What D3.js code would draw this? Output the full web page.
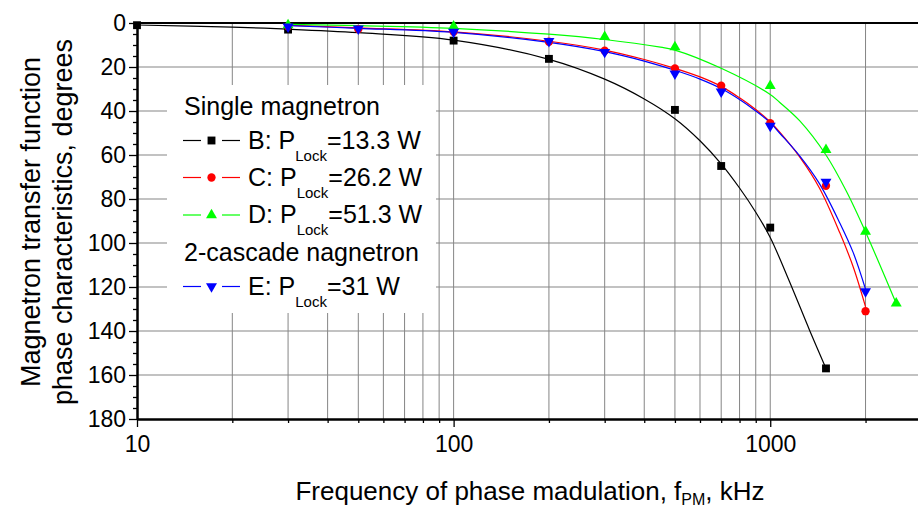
<!DOCTYPE html>
<html><head><meta charset="utf-8">
<script src="https://cdn.jsdelivr.net/npm/d3@7/dist/d3.min.js"></script>
<style>
html,body{margin:0;padding:0;background:#fff;}
svg{display:block;font-family:"Liberation Sans",Arial,sans-serif;}
</style></head>
<body>
<svg id="chart" width="918" height="511"></svg>
<script>
// ---- data ----
const yTickValues = [0,20,40,60,80,100,120,140,160,180];
const xMajorTicks = [10,100,1000];

// measured points
const fB = [10,30,100,200,500,700,1000,1500];
const vB = [1,3,8,16.3,39.5,65,93,157];
const fC = [30,50,100,200,300,500,700,1000,1500,2000];
const vC = [1.5,2.8,4,8.5,12.6,20.6,28.5,45.5,74,131];
const fD = [30,100,300,500,1000,1500,2000,2500];
const vD = [1,1.5,6.3,11,28.6,57.7,94.8,127.4];
const fE = [30,50,100,200,300,500,700,1000,1500,2000];
const vE = [1.7,2.6,4,8.3,13.2,23,31.2,46.8,72.2,122];

// fitted curves
const fitFB = [10,20,30,50,100,200,300,400,500,600,700,800,900,1000,1150,1330,1500];
const fitVB = [0.9,1.9,2.8,4.4,7.8,16.5,25.5,34.5,43.5,53.5,64,75,86,97.5,117.5,139.5,157];
const fitFC = [30,50,100,200,300,400,500,600,700,800,900,1000,1070,1240,1430,1660,1830,2000];
const fitVC = [1.0,2.2,4.0,8.3,12.3,16.6,20.6,24.5,28.8,34,39.3,45,49.5,61,75,95.5,111,129];
const fitFD = [30,50,100,200,300,450,500,700,1000,1070,1240,1500,1740,2000,2500];
const fitVD = [0.6,1.2,2.4,5.1,7.5,11,12.3,20.6,32.5,36,44.5,60,76.5,95,127.5];
const fitFE = [30,50,100,200,300,400,500,600,700,800,900,1000,1070,1240,1430,1660,1830,2000];
const fitVE = [1.2,2.4,4.3,8.8,13,17.3,21.5,25.5,29.8,34.8,40,45.3,50,60.5,73,91,104.5,121];

const seriesNames = ["B","C","D","E"];
const seriesColors = ["#000000","#ff0000","#00ff00","#0000ff"];
const seriesSymbols = ["square","circle","triUp","triDown"];
const legendPrefix = ["B: P","C: P","D: P","E: P"];
const legendValue = ["=13.3 W","=26.2 W","=51.3 W","=31 W"];
const legendHeader1 = "Single magnetron";
const legendHeader2 = "2-cascade nagnetron";

// ---- chart ----
const svg = d3.select("#chart");
const x = d3.scaleLog().domain([10,3000]).range([137,921.3]);
const y = d3.scaleLinear().domain([0,180]).range([23,419]);

const grid = svg.append("g");
grid.selectAll("line.v").data(x.ticks().filter(d=>d>10)).enter().append("line")
  .attr("x1",d=>x(d)).attr("x2",d=>x(d)).attr("y1",y(0)).attr("y2",y(180))
  .attr("stroke","#858585").attr("stroke-width",1);
grid.selectAll("line.h").data(yTickValues.filter(d=>d>0&&d<180)).enter().append("line")
  .attr("x1",x(10)).attr("x2",x(3000)).attr("y1",d=>y(d)).attr("y2",d=>y(d))
  .attr("stroke","#858585").attr("stroke-width",1.2);

// legend background
svg.append("rect").attr("x",167).attr("y",85).attr("width",269).attr("height",228).attr("fill","#fff");

// axes
const fs = 23;
const yAxis = svg.append("g").attr("transform",`translate(${x(10)},0)`)
  .call(d3.axisLeft(y).tickValues(yTickValues).tickSize(8).tickSizeOuter(0).tickPadding(3));
const yMinor = svg.append("g").attr("transform",`translate(${x(10)},0)`)
  .call(d3.axisLeft(y).tickValues(d3.range(5,180,5).filter(d=>d%20!==0)).tickSize(4).tickSizeOuter(0).tickFormat(""));
const xAxis = svg.append("g").attr("transform",`translate(0,${y(180)})`)
  .call(d3.axisBottom(x).tickValues(xMajorTicks).tickSize(8).tickSizeOuter(0).tickPadding(9).tickFormat(d3.format("d")));
const xMinor = svg.append("g").attr("transform",`translate(0,${y(180)})`)
  .call(d3.axisBottom(x).tickValues(x.ticks().filter(d=>!xMajorTicks.includes(d))).tickSize(4).tickSizeOuter(0).tickFormat(""));
[yAxis,yMinor,xAxis,xMinor].forEach(g=>{
  g.selectAll("path.domain").attr("stroke","#000").attr("stroke-width",2);
  g.selectAll(".tick line").attr("stroke","#000").attr("stroke-width",1.3);
  g.selectAll("text").attr("font-size",fs).attr("fill","#000").attr("font-family","Liberation Sans, Arial, sans-serif");
});
svg.append("line").attr("x1",x(10)-1).attr("x2",x(3000)).attr("y1",y(0)).attr("y2",y(0))
  .attr("stroke","#000").attr("stroke-width",2);

// curves
const line = d3.line().x(d=>x(d[0])).y(d=>y(d[1])).curve(d3.curveCatmullRom.alpha(0.5));
const fits = [[fitFB,fitVB],[fitFC,fitVC],[fitFD,fitVD],[fitFE,fitVE]];
const pts = [[fB,vB],[fC,vC],[fD,vD],[fE,vE]];

function symbolPath(type){
  if(type==="square") return d3.symbol(d3.symbolSquare,62)();
  if(type==="circle") return d3.symbol(d3.symbolCircle,54)();
  return d3.symbol(d3.symbolTriangle,52)();
}
function symTransform(type,px,py){
  if(type==="triDown") return `translate(${px},${py}) rotate(180)`;
  return `translate(${px},${py})`;
}

fits.forEach((f,i)=>{
  svg.append("path").datum(f[0].map((d,j)=>[d,f[1][j]]))
    .attr("d",line).attr("fill","none").attr("stroke",seriesColors[i]).attr("stroke-width",1.2);
});
pts.forEach((p,i)=>{
  svg.append("g").selectAll("path").data(p[0].map((d,j)=>[d,p[1][j]])).enter().append("path")
    .attr("d",symbolPath(seriesSymbols[i]))
    .attr("transform",d=>symTransform(seriesSymbols[i],x(d[0]),y(d[1])))
    .attr("fill",seriesColors[i]);
});

// legend
const lg = svg.append("g").attr("font-size",25).attr("fill","#000");
lg.append("text").attr("x",184).attr("y",115).text(legendHeader1);
lg.append("text").attr("x",184).attr("y",261).text(legendHeader2);
const rowY = [140.5,177.5,215,286.5];
seriesNames.forEach((n,i)=>{
  const ry = rowY[i];
  lg.append("line").attr("x1",183).attr("x2",201).attr("y1",ry).attr("y2",ry)
    .attr("stroke",seriesColors[i]).attr("stroke-width",1.2);
  lg.append("line").attr("x1",222).attr("x2",240).attr("y1",ry).attr("y2",ry)
    .attr("stroke",seriesColors[i]).attr("stroke-width",1.2);
  lg.append("path").attr("d",symbolPath(seriesSymbols[i]))
    .attr("transform",symTransform(seriesSymbols[i],211.5,ry)).attr("fill",seriesColors[i]);
  const t = lg.append("text").attr("x",248).attr("y",ry+8);
  t.append("tspan").text(legendPrefix[i]);
  t.append("tspan").attr("font-size",15).attr("dy",12).text("Lock");
  t.append("tspan").attr("dy",-12).text(legendValue[i]);
});

// axis titles
const xt = svg.append("text").attr("x",530).attr("y",500).attr("text-anchor","middle").attr("font-size",26);
xt.append("tspan").text("Frequency of phase madulation, f");
xt.append("tspan").attr("font-size",16).attr("dy",5).text("PM");
xt.append("tspan").attr("dy",-5).text(", kHz");

const yt = svg.append("text").attr("transform","translate(0,222) rotate(-90)").attr("text-anchor","middle").attr("font-size",27);
yt.append("tspan").attr("x",0).attr("y",40).text("Magnetron transfer function");
yt.append("tspan").attr("x",0).attr("y",72).text("phase characteristics, degrees");
</script>
</body></html>
